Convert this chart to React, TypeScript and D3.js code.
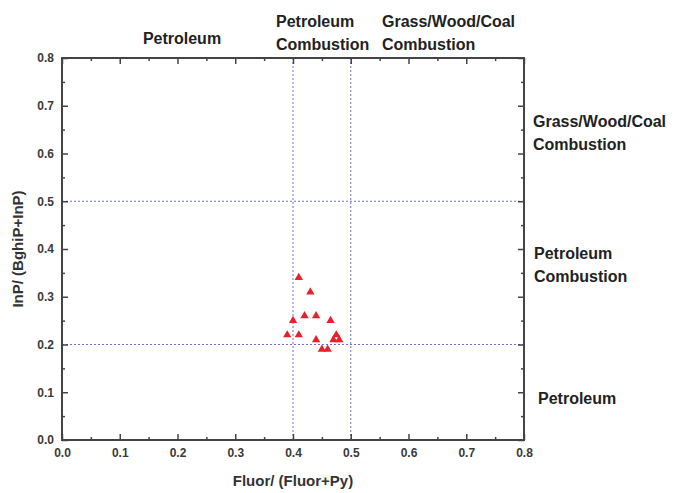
import React, { useEffect, useRef } from "react";
import * as d3 from "d3";

// DATA
const fluorRatio = [0.41, 0.43, 0.4, 0.42, 0.44, 0.465, 0.39, 0.41, 0.44, 0.45, 0.46, 0.47, 0.475, 0.48];
const inpRatio = [0.34, 0.31, 0.25, 0.26, 0.26, 0.25, 0.22, 0.22, 0.21, 0.19, 0.19, 0.21, 0.22, 0.21];
const xThresholds = [0.4, 0.5];
const yThresholds = [0.2, 0.5];
const majorTicks = [0, 0.1, 0.2, 0.3, 0.4, 0.5, 0.6, 0.7, 0.8];
const minorTicks = [0.05, 0.15, 0.25, 0.35, 0.45, 0.55, 0.65, 0.75];

export default function App() {
  const ref = useRef<SVGSVGElement>(null);

  useEffect(() => {
    const svg = d3.select(ref.current);
    svg.selectAll("*").remove();

    // WIDTH, HEIGHT & MARGIN
    const margin = { top: 58, right: 150, bottom: 53, left: 62 };
    const width = 674 - margin.left - margin.right;
    const height = 493 - margin.top - margin.bottom;
    const font = "Arial, 'Liberation Sans', sans-serif";
    const axisColor = "#444";

    const g = svg.append("g").attr("transform", `translate(${margin.left},${margin.top})`);

    const x = d3.scaleLinear().domain([0, 0.8]).range([0, width]);
    const y = d3.scaleLinear().domain([0, 0.8]).range([height, 0]);

    // DOTTED GUIDE LINES
    g.selectAll(".vline")
      .data(xThresholds)
      .join("line")
      .attr("x1", (d) => x(d))
      .attr("x2", (d) => x(d))
      .attr("y1", 0)
      .attr("y2", height)
      .attr("stroke", "#6f6fd0")
      .attr("stroke-width", 1)
      .attr("stroke-dasharray", "2,2");

    g.selectAll(".hline")
      .data(yThresholds)
      .join("line")
      .attr("x1", 0)
      .attr("x2", width)
      .attr("y1", (d) => y(d))
      .attr("y2", (d) => y(d))
      .attr("stroke", "#6f6fd0")
      .attr("stroke-width", 1)
      .attr("stroke-dasharray", "2,2");

    // AXES (ticks pointing inward)
    const styleAxis = (sel: any, labels: boolean) => {
      sel.select(".domain").remove();
      sel.selectAll("line").attr("stroke", axisColor).attr("stroke-width", 1.5);
      sel
        .selectAll("text")
        .attr("fill", labels ? "#3a3a3a" : "none")
        .style("font-family", font)
        .style("font-size", "12px")
        .style("font-weight", "bold");
    };

    const fmt = d3.format(".1f");
    const addAxis = (axisFn: any, scale: any, transform: string, labels: boolean) => {
      g.append("g")
        .attr("transform", transform)
        .call(axisFn(scale).tickValues(minorTicks).tickSize(-3).tickFormat(""))
        .call((s: any) => styleAxis(s, false));
      g.append("g")
        .attr("transform", transform)
        .call(axisFn(scale).tickValues(majorTicks).tickSize(-6).tickPadding(8).tickFormat(labels ? fmt : ""))
        .call((s: any) => styleAxis(s, labels));
    };

    addAxis(d3.axisBottom, x, `translate(0,${height})`, true);
    addAxis(d3.axisTop, x, "translate(0,0)", false);
    addAxis(d3.axisLeft, y, "translate(0,0)", true);
    addAxis(d3.axisRight, y, `translate(${width},0)`, false);

    // FRAME
    g.append("rect")
      .attr("width", width)
      .attr("height", height)
      .attr("fill", "none")
      .attr("stroke", axisColor)
      .attr("stroke-width", 2);

    // POINTS
    const tri = d3.symbol().type(d3.symbolTriangle).size(30);
    g.selectAll(".pt")
      .data(fluorRatio.map((v, i) => ({ x: v, y: inpRatio[i] })))
      .join("path")
      .attr("d", tri)
      .attr("transform", (d) => `translate(${x(d.x)},${y(d.y)})`)
      .attr("fill", "#e8202a");

    // AXIS TITLES
    svg.append("text")
      .attr("x", margin.left + x(0.4))
      .attr("y", 486)
      .attr("text-anchor", "middle")
      .attr("fill", "#333")
      .style("font-family", font)
      .style("font-size", "15px")
      .style("font-weight", "bold")
      .text("Fluor/ (Fluor+Py)");

    svg.append("text")
      .attr("transform", `translate(23,${margin.top + y(0.4)}) rotate(-90)`)
      .attr("text-anchor", "middle")
      .attr("fill", "#333")
      .style("font-family", font)
      .style("font-size", "15px")
      .style("font-weight", "bold")
      .text("InP/ (BghiP+InP)");

    // REGION LABELS
    const label = (lines: string[], lx: number, ly: number, anchor = "start") => {
      const t = svg.append("text")
        .attr("text-anchor", anchor)
        .attr("fill", "#222")
        .style("font-family", font)
        .style("font-size", "16px")
        .style("font-weight", "bold");
      lines.forEach((l, i) => {
        t.append("tspan").attr("x", lx).attr("y", ly + i * 23).text(l);
      });
    };

    label(["Petroleum"], 182, 44, "middle");
    label(["Petroleum", "Combustion"], 276, 27);
    label(["Grass/Wood/Coal", "Combustion"], 382, 27);
    label(["Grass/Wood/Coal", "Combustion"], 533, 127);
    label(["Petroleum", "Combustion"], 534, 259);
    label(["Petroleum"], 538, 404);
  }, []);

  return (
    <svg
      ref={ref}
      width={674}
      height={493}
      style={{ position: "absolute", left: 0, top: 0, background: "#fff" }}
    />
  );
}
